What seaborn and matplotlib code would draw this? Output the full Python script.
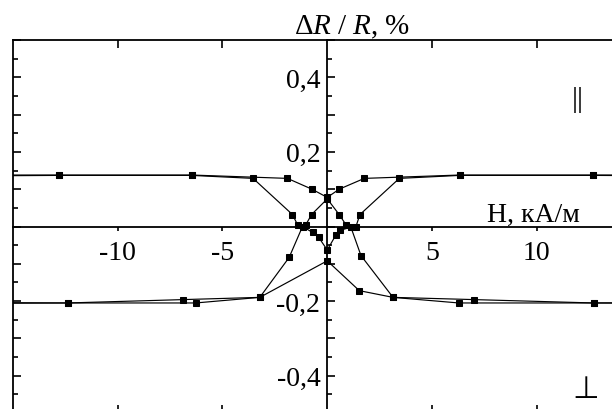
import numpy as np
import pandas as pd
import matplotlib
matplotlib.use('Agg')
import matplotlib.pyplot as plt
import seaborn as sns
from matplotlib.ticker import MultipleLocator, FixedLocator, FuncFormatter

sns.set_theme(style='white')
plt.rcParams['font.family'] = ['Liberation Serif', 'DejaVu Serif', 'DejaVu Sans']
plt.rcParams['mathtext.fontset'] = 'custom'
plt.rcParams['mathtext.rm'] = 'Liberation Serif'
plt.rcParams['mathtext.it'] = 'Liberation Serif:italic'

# ---- data ----
# parallel orientation, branch with shallow dip at H=0
par_v_H = [-16.0, -12.8, -6.47, -1.90, -0.73, 0.0, 0.57, 1.77, 6.32, 12.68, 16.0]
par_v_R = [0.138, 0.138, 0.138, 0.129, 0.100, 0.078, 0.100, 0.129, 0.138, 0.138, 0.138]
# parallel orientation, branch with dips near +-Hc
par_w_H = [-16.0, -12.8, -6.47, -3.54, -1.66, -1.42, -1.02, -0.75, 0.0, 0.57, 0.89, 1.37, 1.56, 3.44, 6.32, 12.68, 16.0]
par_w_R = [0.136, 0.137, 0.137, 0.129, 0.032, 0.005, 0.005, 0.032, 0.074, 0.032, 0.005, 0.0, 0.032, 0.129, 0.137, 0.137, 0.136]
# perpendicular orientation, branch with peaks near +-Hc
perp_m_H = [-16.0, -12.38, -6.89, -3.22, -1.82, -1.18, -0.70, -0.41, 0.0, 0.40, 0.62, 1.13, 1.61, 3.14, 7.02, 12.71, 16.0]
perp_m_R = [-0.204, -0.205, -0.196, -0.190, -0.083, 0.0, -0.016, -0.029, -0.063, -0.024, -0.010, -0.002, -0.078, -0.190, -0.196, -0.205, -0.204]
# perpendicular orientation, branch with peak at H=0
perp_l_H = [-16.0, -12.38, -6.28, -3.22, 0.0, 1.53, 3.14, 6.28, 12.71, 16.0]
perp_l_R = [-0.206, -0.205, -0.205, -0.190, -0.092, -0.172, -0.190, -0.205, -0.205, -0.206]

x_ticks = [-10, -5, 5, 10]
x_tick_labels = ['-10', '-5', '5', '10']
y_label_vals = [-0.4, -0.2, 0.2, 0.4]
y_tick_labels = ['-0,4', '-0,2', '0,2', '0,4']

frames = []
for name, hh, rr in [('par_v', par_v_H, par_v_R), ('par_w', par_w_H, par_w_R),
                     ('perp_m', perp_m_H, perp_m_R), ('perp_l', perp_l_H, perp_l_R)]:
    frames.append(pd.DataFrame({'H': hh, 'R': rr, 'branch': name}))
df = pd.concat(frames, ignore_index=True)

W, Hpx = 612, 410
fig = plt.figure(figsize=(W / 100, Hpx / 100), dpi=100)
fig.patch.set_facecolor('white')

left_px, top_px = 13, 41
right_px = 641.5
bottom_px = 414
pos = [left_px / W, (Hpx - bottom_px) / Hpx, (right_px - left_px) / W, (bottom_px - top_px) / Hpx]

xlim = (-15, 15)
ylim = (-0.5, 0.5)

# outer frame
axf = fig.add_axes(pos, zorder=0)
axf.set_xlim(*xlim)
axf.set_ylim(*ylim)
axf.set_facecolor('white')
for sp in axf.spines.values():
    sp.set_visible(True)
    sp.set_color('black')
    sp.set_linewidth(1.3)
axf.xaxis.set_major_locator(FixedLocator(x_ticks))
axf.yaxis.set_major_locator(MultipleLocator(0.1))
axf.yaxis.set_minor_locator(MultipleLocator(0.05))
axf.tick_params(which='both', direction='in', top=True, bottom=True, left=True, right=True,
                labelleft=False, labelbottom=False, color='black', width=1.2)
axf.tick_params(which='major', length=6)
axf.tick_params(which='minor', length=3.5)
axf.grid(False)

# data axes with centred axis lines
ax = fig.add_axes(pos, zorder=1)
ax.set_facecolor('none')
sns.lineplot(data=df, x='H', y='R', units='branch', estimator=None, sort=False,
             color='black', marker='s', markersize=5, markeredgecolor='black',
             linewidth=0.85, ax=ax, legend=False)
ax.set_xlim(*xlim)
ax.set_ylim(*ylim)
ax.set_xlabel('')
ax.set_ylabel('')
ax.grid(False)
ax.spines['left'].set_position(('data', 0))
ax.spines['bottom'].set_position(('data', 0))
ax.spines['top'].set_visible(False)
ax.spines['right'].set_visible(False)
for s in ('left', 'bottom'):
    ax.spines[s].set_color('black')
    ax.spines[s].set_linewidth(1.3)

ax.xaxis.set_major_locator(FixedLocator(x_ticks))
ax.set_xticklabels(x_tick_labels)
ax.yaxis.set_major_locator(MultipleLocator(0.1))
ax.yaxis.set_minor_locator(MultipleLocator(0.05))
lab = dict(zip([round(v, 2) for v in y_label_vals], y_tick_labels))
ax.yaxis.set_major_formatter(FuncFormatter(lambda v, p: lab.get(round(v, 2), '')))
ax.tick_params(axis='y', which='both', direction='in', left=True, color='black', width=1.2,
               labelsize=20, pad=5, labelcolor='black')
ax.tick_params(axis='y', which='major', length=6)
ax.tick_params(axis='y', which='minor', length=3.5)
ax.tick_params(axis='x', which='major', direction='out', bottom=True, length=3, width=1.2,
               color='black', labelsize=20, pad=7, labelcolor='black')

fig.text(352 / W, 1 - 27 / Hpx, r'$\Delta R\ /\ R$, %', ha='center', va='center',
         fontsize=21, color='black')
fig.text(487 / W, 1 - 222 / Hpx, 'H, кА/м', ha='left', va='baseline', fontsize=20, color='black')
fig.text(578 / W, 1 - 100 / Hpx, '||', ha='center', va='center', fontsize=21, color='black')
fig.text(586 / W, 1 - 390 / Hpx, '⊥', ha='center', va='center', fontsize=22, color='black',
         family=['DejaVu Sans'])

fig.savefig('out.png', dpi=100)
